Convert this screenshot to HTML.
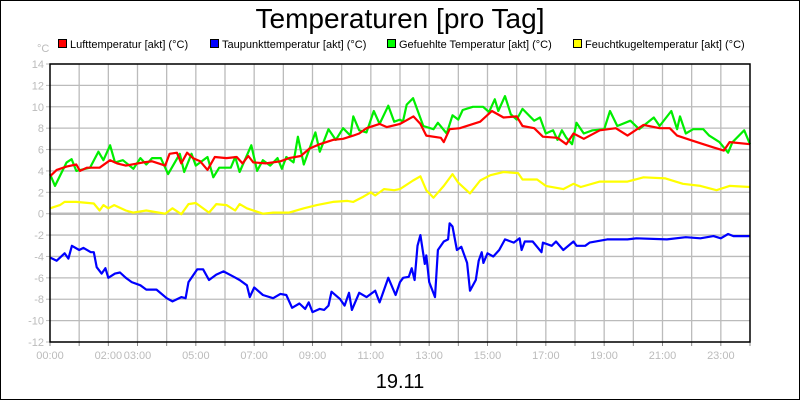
<!DOCTYPE html>
<html><head><meta charset="utf-8"><style>
html,body{margin:0;padding:0;background:#fff}
body{width:800px;height:400px;overflow:hidden}
svg text{font-family:"Liberation Sans",sans-serif}
</style></head><body>
<svg id="chart" width="800" height="400" xmlns="http://www.w3.org/2000/svg">
<rect x="0.5" y="0.5" width="799" height="399" fill="#fff" stroke="#000" stroke-width="1"/>
<text x="400" y="28" font-size="28" text-anchor="middle" fill="#000">Temperaturen [pro Tag]</text>
<g font-size="11">
 <g><rect x="58.5" y="39.5" width="8" height="8" fill="#f00" stroke="#000"/><text x="70" y="48">Lufttemperatur [akt] (°C)</text></g>
 <g><rect x="210.5" y="39.5" width="8" height="8" fill="#00f" stroke="#000"/><text x="222" y="48">Taupunkttemperatur [akt] (°C)</text></g>
 <g><rect x="387.5" y="39.5" width="8" height="8" fill="#0f0" stroke="#000"/><text x="399" y="48">Gefuehlte Temperatur [akt] (°C)</text></g>
 <g><rect x="573.5" y="39.5" width="8" height="8" fill="#ff0" stroke="#000"/><text x="585" y="48">Feuchtkugeltemperatur [akt] (°C)</text></g>
</g>
<text x="37" y="52" font-size="11" fill="#bbb">°C</text>
<g id="grid"></g>
<g id="axes"></g>
<g id="series"></g>
<rect x="50" y="64" width="700" height="278" fill="none" stroke="#000" stroke-width="1.5"/>
<text x="400" y="388" font-size="20" text-anchor="middle" fill="#000">19.11</text>
</svg>
<script>
const yTicks=[-12,-10,-8,-6,-4,-2,0,2,4,6,8,10,12,14];
const xTickHours=[0,2,3,5,7,9,11,13,15,17,19,21,23];
const xTickLabels=["00:00","02:00","03:00","05:00","07:00","09:00","11:00","13:00","15:00","17:00","19:00","21:00","23:00"];

const redHours=[0,0.23,0.57,0.9,1.03,1.26,1.7,2.06,2.3,2.6,3.2,3.5,3.95,4.1,4.35,4.5,4.7,4.9,5.15,5.4,5.65,6.05,6.4,6.6,6.8,6.97,7.4,7.9,8.2,8.6,8.9,9.25,9.7,10.05,10.4,10.6,10.85,11.3,11.55,12,12.46,12.7,12.9,13.4,13.5,13.7,14.05,14.75,15.15,15.55,16,16.2,16.6,16.9,17.4,17.7,17.95,18.3,18.85,19.4,19.8,20.35,20.9,21.25,21.5,21.95,22.4,22.75,23.1,23.3,24];
const redValues=[3.5,4.1,4.4,4.6,4.0,4.3,4.3,5.0,4.7,4.5,4.8,4.9,4.5,5.6,5.7,4.7,5.7,5.2,4.9,4.1,5.3,5.2,5.3,4.7,5.4,4.8,4.7,4.9,5.2,5.4,6.1,6.5,6.9,7.0,7.3,7.5,8.0,8.4,8.1,8.4,9.1,8.4,7.3,7.1,6.7,7.9,8.0,8.6,9.6,9.0,9.1,8.2,8.0,7.2,7.1,6.5,7.5,7.0,7.8,8.0,7.3,8.3,8.0,8.0,7.3,6.9,6.5,6.2,5.9,6.7,6.5];

const greenHours=[0,0.17,0.57,0.74,0.9,1.37,1.66,1.83,2.06,2.23,2.5,2.86,3.1,3.3,3.5,3.8,4.05,4.45,4.6,4.85,5.0,5.4,5.6,5.8,6.2,6.35,6.5,6.9,7.1,7.3,7.55,7.8,7.95,8.1,8.35,8.5,8.7,9.1,9.25,9.55,9.8,10.05,10.3,10.4,10.6,10.85,11.1,11.3,11.6,11.8,12,12.1,12.23,12.45,12.8,13.15,13.3,13.6,13.8,14.0,14.15,14.5,14.85,15.05,15.25,15.37,15.6,15.8,16.0,16.2,16.6,16.8,17.0,17.25,17.4,17.55,17.7,17.9,18.05,18.3,18.6,19.0,19.2,19.45,19.9,20.2,20.7,20.9,21.3,21.5,21.6,21.8,22.05,22.4,22.6,22.95,23.25,23.4,23.8,24];
const greenValues=[3.7,2.6,4.8,5.1,4.0,4.3,5.8,5.0,6.4,4.8,5.0,4.2,5.2,4.6,5.2,5.2,3.7,5.6,3.9,5.6,4.5,5.3,3.4,4.3,4.3,5.3,3.9,6.4,4.0,5.0,4.5,5.2,4.2,5.3,4.8,7.2,4.6,7.6,5.8,7.9,6.9,8.0,7.3,9.1,7.8,7.6,9.6,8.4,10.1,8.6,8.8,8.6,10.2,10.8,8.2,7.9,8.5,7.5,9.2,8.8,9.7,10.0,10.0,9.5,10.7,9.6,11.0,9.3,8.8,9.8,8.7,9.0,7.5,7.8,6.9,7.8,7.1,6.5,8.5,7.5,7.8,7.9,9.6,8.2,8.7,7.9,9.0,8.2,9.6,7.9,9.1,7.5,7.9,7.9,7.3,6.7,5.7,6.7,7.8,6.5];

const yellowHours=[0,0.34,0.5,0.9,1.5,1.7,1.83,2.0,2.2,2.6,2.85,3.3,3.95,4.2,4.5,4.75,5.0,5.45,5.7,6.05,6.35,6.5,6.75,7.3,7.65,8.2,8.7,9.15,9.7,10.2,10.4,10.75,11.0,11.15,11.45,11.8,12,12.45,12.7,12.9,13.15,13.5,13.8,14.0,14.4,14.75,15.1,15.55,16.05,16.2,16.7,17.0,17.6,17.95,18.2,18.85,19.8,20.35,21.1,21.7,22.3,22.85,23.3,24];
const yellowValues=[0.5,0.8,1.1,1.1,0.95,0.3,0.8,0.5,0.8,0.3,0.1,0.3,0.0,0.5,-0.05,0.9,1.0,0.1,0.9,0.8,0.3,0.9,0.5,0.0,0.1,0.1,0.5,0.8,1.1,1.2,1.1,1.6,2.0,1.7,2.3,2.2,2.3,3.1,3.5,2.2,1.5,2.6,3.7,2.9,1.9,3.1,3.6,3.9,3.8,3.2,3.2,2.6,2.3,2.8,2.5,3.0,3.0,3.4,3.3,2.8,2.6,2.2,2.6,2.5];

const blueHours=[0,0.23,0.5,0.63,0.75,1.0,1.15,1.4,1.5,1.6,1.77,1.9,2.0,2.23,2.4,2.6,2.8,3.1,3.3,3.65,4.0,4.2,4.5,4.65,4.75,5.05,5.25,5.45,5.7,5.95,6.3,6.5,6.75,6.85,7.0,7.3,7.65,7.9,8.1,8.3,8.55,8.75,8.87,9.0,9.25,9.4,9.55,9.65,9.95,10.1,10.25,10.35,10.6,10.85,11.15,11.3,11.6,11.85,12,12.11,12.3,12.4,12.5,12.6,12.7,12.85,12.9,13.0,13.2,13.3,13.5,13.65,13.7,13.8,13.95,14.1,14.3,14.4,14.6,14.7,14.8,14.86,15.0,15.2,15.4,15.6,15.9,16.1,16.17,16.28,16.55,16.85,16.9,17.2,17.35,17.6,17.95,18.05,18.35,18.5,19.1,19.8,20.1,21.15,21.8,22.3,22.75,23.0,23.25,23.43,24];
const blueValues=[-4.1,-4.4,-3.7,-4.2,-3.0,-3.4,-3.2,-3.6,-3.6,-5.0,-5.6,-5.1,-6.0,-5.6,-5.5,-6.0,-6.4,-6.7,-7.1,-7.1,-7.9,-8.2,-7.8,-7.9,-6.4,-5.2,-5.2,-6.2,-5.7,-5.4,-5.9,-6.2,-6.7,-7.8,-6.9,-7.6,-7.9,-7.5,-7.6,-8.8,-8.4,-8.9,-8.3,-9.2,-8.9,-9.0,-8.6,-7.3,-8.0,-8.6,-7.4,-9.0,-7.4,-7.8,-7.2,-8.3,-6.0,-7.6,-6.4,-6.0,-5.9,-5.1,-6.2,-3.0,-2.0,-4.7,-3.9,-6.4,-7.8,-3.4,-2.6,-2.4,-0.9,-1.2,-3.4,-3.1,-4.6,-7.2,-6.2,-4.4,-3.6,-4.6,-3.7,-4.0,-3.4,-2.4,-2.7,-2.3,-3.4,-2.6,-2.6,-3.6,-2.7,-3.0,-2.6,-3.4,-2.6,-3.0,-3.0,-2.7,-2.4,-2.4,-2.3,-2.4,-2.2,-2.3,-2.1,-2.3,-1.9,-2.1,-2.1];

const X0=50,X1=750,Y0=64,Y1=342,YMIN=-12,YMAX=14,HMAX=24;
const xs=h=>X0+(h/HMAX)*(X1-X0);
const ys=v=>Y1-(v-YMIN)/(YMAX-YMIN)*(Y1-Y0);
const NS="http://www.w3.org/2000/svg";
function mk(tag,parent){const e=document.createElementNS(NS,tag);parent.appendChild(e);return e;}
const grid=document.getElementById('grid'),axes=document.getElementById('axes'),series=document.getElementById('series');

for(let h=1;h<HMAX;h++){
  const l=mk('line',grid);
  
  
  l.setAttribute('x1',xs(h));l.setAttribute('x2',xs(h));l.setAttribute('y1',Y0);l.setAttribute('y2',Y1);
  l.setAttribute('stroke','#bbb');l.setAttribute('stroke-width','1.3');
}
for(let h=0;h<=HMAX;h++){
  const t=mk('line',axes);
  
  
  t.setAttribute('x1',xs(h));t.setAttribute('x2',xs(h));t.setAttribute('y1',Y1);t.setAttribute('y2',Y1+4);
  t.setAttribute('stroke','#888');
}
yTicks.forEach(v=>{
  const l=mk('line',grid);
  
  
  l.setAttribute('x1',X0);l.setAttribute('x2',X1);l.setAttribute('y1',ys(v));l.setAttribute('y2',ys(v));
  l.setAttribute('stroke','#bbb');l.setAttribute('stroke-width',v===0?'2.5':'1.3');
  const tk=mk('line',axes);
  
  
  tk.setAttribute('x1',X0-4);tk.setAttribute('x2',X0);tk.setAttribute('y1',ys(v));tk.setAttribute('y2',ys(v));
  tk.setAttribute('stroke','#bbb');
  const t=mk('text',axes);
  
  
  t.setAttribute('x',X0-6);t.setAttribute('y',ys(v)+4);
  t.setAttribute('text-anchor','end');t.setAttribute('font-size','11');t.setAttribute('fill','#bbb');
  t.textContent=v;
});
xTickHours.forEach((h,i)=>{
  const t=mk('text',axes);
  
  
  t.setAttribute('x',xs(h));t.setAttribute('y',Y1+17);
  t.setAttribute('text-anchor','middle');t.setAttribute('font-size','11');t.setAttribute('fill','#bbb');
  t.textContent=xTickLabels[i];
});
function drawLine(hours,vals,color,name){
  const p=mk('polyline',series);
  
  
  p.setAttribute('points',hours.map((h,i)=>xs(h).toFixed(1)+','+ys(vals[i]).toFixed(1)).join(' '));
  p.setAttribute('fill','none');p.setAttribute('stroke',color);p.setAttribute('stroke-width','2.2');
  p.setAttribute('stroke-linejoin','round');
}
drawLine(yellowHours,yellowValues,'#ffff00','feuchtkugel-line');
drawLine(blueHours,blueValues,'#0000ff','taupunkt-line');
drawLine(greenHours,greenValues,'#00ee00','gefuehlt-line');
drawLine(redHours,redValues,'#ff0000','luft-line');
</script>
</body></html>
